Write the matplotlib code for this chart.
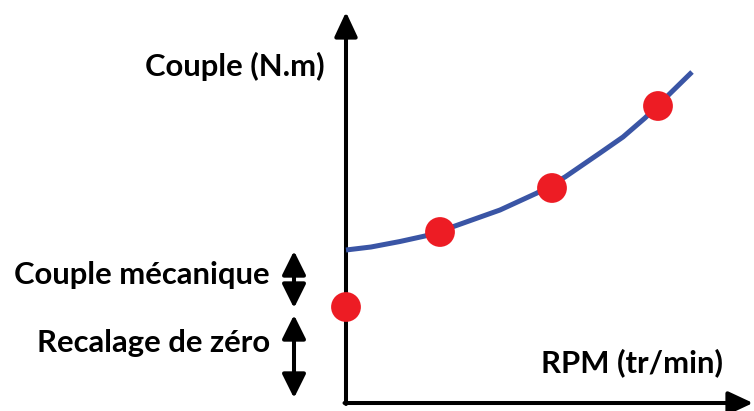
import matplotlib
matplotlib.use("Agg")
import matplotlib.pyplot as plt

# curve (rpm, couple in arbitrary units)
curve_rpm = [0, 250, 540, 790, 1090, 1540, 1910, 2190, 2540, 2770, 2990, 3460]
curve_couple = [15.3, 15.6, 16.15, 16.7, 17.7, 19.3, 21.0, 22.6, 25.0, 26.6, 28.5, 33.1]

# measured points
pts_rpm = [0, 940, 2060, 3120]
pts_couple = [9.6, 17.1, 21.5, 29.7]

# offsets shown by the double arrows on the left
mech_range = [15.2, 9.5]
zero_range = [8.8, 0.5]
arrow_rpm = -520

labels = {
    "ylabel": "Couple (N.m)",
    "xlabel": "RPM (tr/min)",
    "mech": "Couple mécanique",
    "zero": "Recalage de zéro",
}

plt.rcParams['font.family'] = ['Lato', 'DejaVu Sans']

fig = plt.figure(figsize=(7.54, 4.11), dpi=100)
ax = fig.add_axes([0, 0, 1, 1])
ax.set_xlim(-3460, 4080)
ax.set_ylim(-0.8, 40.3)
ax.axis('off')

# axes with arrows
axis_style = dict(arrowstyle='-|>,head_length=1.5,head_width=0.7', mutation_scale=10,
                  lw=2.9, color='black', shrinkA=0, shrinkB=0)
ax.annotate('', xy=(0, 39.1), xytext=(0, -0.1), arrowprops=axis_style)
ax.annotate('', xy=(4070, 0), xytext=(-15, 0), arrowprops=axis_style)

# double arrows
dbl_style = dict(arrowstyle='<|-|>,head_length=1.45,head_width=0.72', mutation_scale=10,
                 lw=2.9, color='black', shrinkA=0, shrinkB=0)
ax.annotate('', xy=(arrow_rpm, mech_range[0]), xytext=(arrow_rpm, mech_range[1]), arrowprops=dbl_style)
ax.annotate('', xy=(arrow_rpm, zero_range[0]), xytext=(arrow_rpm, zero_range[1]), arrowprops=dbl_style)

ax.plot(curve_rpm, curve_couple, color='#3a55a5', lw=3.6, solid_capstyle='butt',
        solid_joinstyle='round', zorder=3)
ax.scatter(pts_rpm, pts_couple, s=460, color='#ed1c24', edgecolors='none', zorder=4, clip_on=False)

txt = dict(fontsize=22.3, fontweight='bold', color='black')
ax.text(-210, 32.7, labels["ylabel"], ha='right', va='baseline', **txt)
ax.text(3770, 3.1, labels["xlabel"], ha='right', va='baseline', **txt)
ax.text(-760, 11.9, labels["mech"], ha='right', va='baseline', **txt)
ax.text(-760, 5.1, labels["zero"], ha='right', va='baseline', **txt)

fig.savefig("out.png", dpi=100, facecolor='white')
